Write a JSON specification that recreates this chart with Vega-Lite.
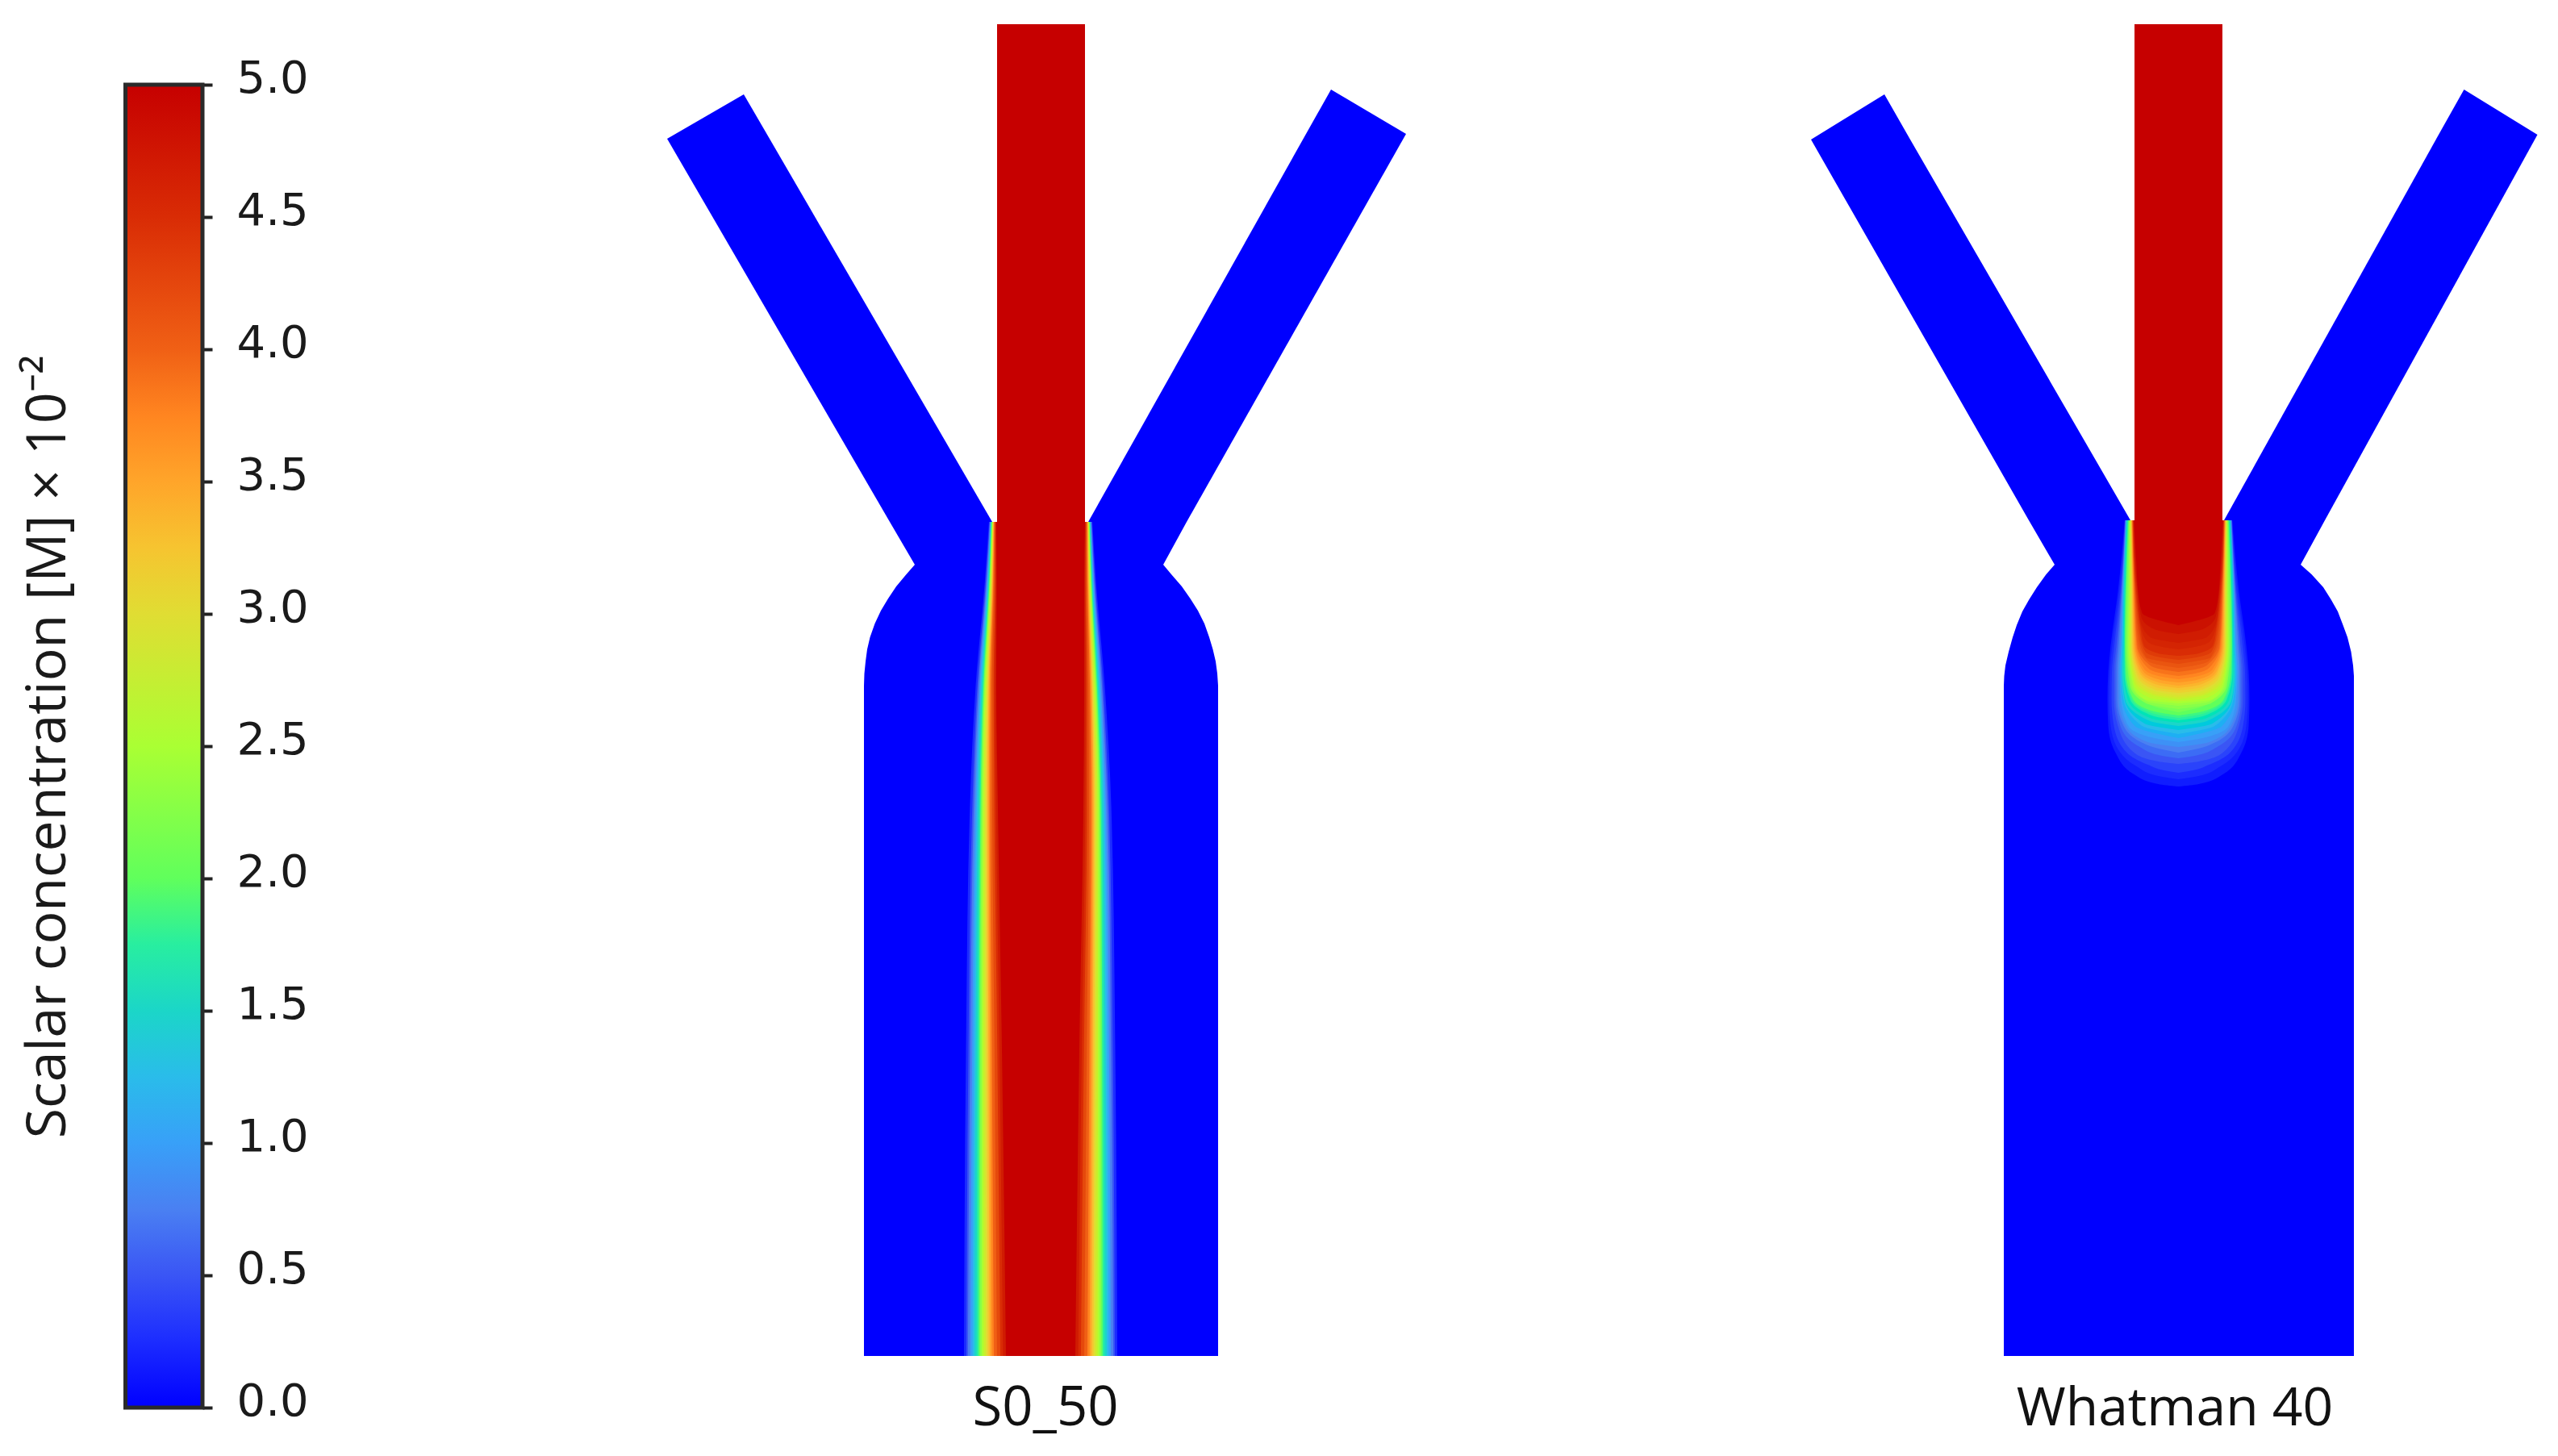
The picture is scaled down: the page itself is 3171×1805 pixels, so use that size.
{
"$schema":"https://vega.github.io/schema/vega-lite/v6.json",
"padding":0,"spacing":0,"bounds":"flush","background":"white",
"config":{"view":{"stroke":null},"concat":{"spacing":0}},
"datasets":{
"ss":[
{"k":"armL","L":0,"y":117,"l":-368.5,"r":-368.5},{"k":"armL","L":0,"y":172,"l":-463.5,"r":-336.5},{"k":"armL","L":0,"y":647,"l":-187.5,"r":-60.5},
{"k":"armR","L":0,"y":111,"l":359.5,"r":359.5},{"k":"armR","L":0,"y":166,"l":328.5,"r":452.5},{"k":"armR","L":0,"y":647,"l":58.5,"r":180.5},
{"k":"body","L":0,"y":647,"l":-187.5,"r":180.5},{"k":"body","L":0,"y":700,"l":-156.5,"r":151.5},{"k":"body","L":0,"y":712,"l":-167,"r":161.5},{"k":"body","L":0,"y":727,"l":-179.5,"r":174.5},{"k":"body","L":0,"y":742,"l":-189.5,"r":185},{"k":"body","L":0,"y":757,"l":-198.5,"r":194.5},{"k":"body","L":0,"y":773,"l":-206,"r":202.5},{"k":"body","L":0,"y":790,"l":-212,"r":208.5},{"k":"body","L":0,"y":805,"l":-215.5,"r":213},{"k":"body","L":0,"y":820,"l":-217.5,"r":216.5},{"k":"body","L":0,"y":835,"l":-219,"r":218.5},{"k":"body","L":0,"y":850,"l":-219.5,"r":219.5},{"k":"body","L":0,"y":1681,"l":-219.5,"r":219.5},
{"k":"chan","L":5,"y":30,"l":-54.5,"r":54.5},{"k":"chan","L":5,"y":647,"l":-54.5,"r":54.5}
],
"s":[
{"k":"a","L":0.25,"y":647,"l":-64.6,"r":63.6},{"k":"a","L":0.25,"y":720,"l":-69.6,"r":68.1},{"k":"a","L":0.25,"y":850,"l":-81,"r":79},{"k":"a","L":0.25,"y":1000,"l":-88.1,"r":87.1},{"k":"a","L":0.25,"y":1300,"l":-93,"r":92},{"k":"a","L":0.25,"y":1681,"l":-95.5,"r":94.5},
{"k":"b","L":0.5,"y":647,"l":-63.9,"r":62.9},{"k":"b","L":0.5,"y":720,"l":-68.4,"r":66.9},{"k":"b","L":0.5,"y":850,"l":-78.9,"r":76.9},{"k":"b","L":0.5,"y":1000,"l":-85.2,"r":84.2},{"k":"b","L":0.5,"y":1300,"l":-90,"r":89},{"k":"b","L":0.5,"y":1681,"l":-92.5,"r":91.5},
{"k":"c","L":0.75,"y":647,"l":-63.4,"r":62.4},{"k":"c","L":0.75,"y":720,"l":-67.6,"r":66.1},{"k":"c","L":0.75,"y":850,"l":-77.5,"r":75.5},{"k":"c","L":0.75,"y":1000,"l":-83.3,"r":82.3},{"k":"c","L":0.75,"y":1300,"l":-87.8,"r":86.8},{"k":"c","L":0.75,"y":1681,"l":-90.6,"r":89.6},
{"k":"d","L":1,"y":647,"l":-62.9,"r":61.9},{"k":"d","L":1,"y":720,"l":-66.8,"r":65.3},{"k":"d","L":1,"y":850,"l":-76.1,"r":74.1},{"k":"d","L":1,"y":1000,"l":-81.4,"r":80.4},{"k":"d","L":1,"y":1300,"l":-85.3,"r":84.3},{"k":"d","L":1,"y":1681,"l":-87.6,"r":86.6},
{"k":"e","L":1.25,"y":647,"l":-62.4,"r":61.4},{"k":"e","L":1.25,"y":720,"l":-66,"r":64.5},{"k":"e","L":1.25,"y":850,"l":-74.8,"r":72.8},{"k":"e","L":1.25,"y":1000,"l":-79.7,"r":78.7},{"k":"e","L":1.25,"y":1300,"l":-83,"r":82},{"k":"e","L":1.25,"y":1681,"l":-84.9,"r":83.9},
{"k":"f","L":1.5,"y":647,"l":-62,"r":61},{"k":"f","L":1.5,"y":720,"l":-65.4,"r":63.9},{"k":"f","L":1.5,"y":850,"l":-73.7,"r":71.7},{"k":"f","L":1.5,"y":1000,"l":-78.2,"r":77.2},{"k":"f","L":1.5,"y":1300,"l":-81,"r":80},{"k":"f","L":1.5,"y":1681,"l":-82.5,"r":81.5},
{"k":"g","L":1.75,"y":647,"l":-61.5,"r":60.5},{"k":"g","L":1.75,"y":720,"l":-64.7,"r":63.2},{"k":"g","L":1.75,"y":850,"l":-72.4,"r":70.4},{"k":"g","L":1.75,"y":1000,"l":-76.5,"r":75.5},{"k":"g","L":1.75,"y":1300,"l":-78.8,"r":77.8},{"k":"g","L":1.75,"y":1681,"l":-79.8,"r":78.8},
{"k":"h","L":2,"y":647,"l":-61.1,"r":60.1},{"k":"h","L":2,"y":720,"l":-64,"r":62.5},{"k":"h","L":2,"y":850,"l":-71.3,"r":69.3},{"k":"h","L":2,"y":1000,"l":-75,"r":74},{"k":"h","L":2,"y":1300,"l":-76.8,"r":75.8},{"k":"h","L":2,"y":1681,"l":-77.4,"r":76.4},
{"k":"i","L":2.25,"y":647,"l":-60.9,"r":59.9},{"k":"i","L":2.25,"y":720,"l":-63.6,"r":62.1},{"k":"i","L":2.25,"y":850,"l":-70.5,"r":68.5},{"k":"i","L":2.25,"y":1000,"l":-73.8,"r":72.8},{"k":"i","L":2.25,"y":1300,"l":-75.3,"r":74.3},{"k":"i","L":2.25,"y":1681,"l":-75.6,"r":74.6},
{"k":"j","L":2.5,"y":647,"l":-60.5,"r":59.5},{"k":"j","L":2.5,"y":720,"l":-63,"r":61.5},{"k":"j","L":2.5,"y":850,"l":-69.5,"r":67.5},{"k":"j","L":2.5,"y":1000,"l":-72.5,"r":71.5},{"k":"j","L":2.5,"y":1300,"l":-73.5,"r":72.5},{"k":"j","L":2.5,"y":1681,"l":-73.5,"r":72.5},
{"k":"m","L":2.75,"y":647,"l":-60.1,"r":59.1},{"k":"m","L":2.75,"y":720,"l":-62.4,"r":60.9},{"k":"m","L":2.75,"y":850,"l":-68.4,"r":66.4},{"k":"m","L":2.75,"y":1000,"l":-71,"r":70},{"k":"m","L":2.75,"y":1300,"l":-71.5,"r":70.5},{"k":"m","L":2.75,"y":1681,"l":-71.1,"r":70.1},
{"k":"n","L":3,"y":647,"l":-59.6,"r":58.6},{"k":"n","L":3,"y":720,"l":-61.6,"r":60.1},{"k":"n","L":3,"y":850,"l":-67.1,"r":65.1},{"k":"n","L":3,"y":1000,"l":-69.3,"r":68.3},{"k":"n","L":3,"y":1300,"l":-69.2,"r":68.2},{"k":"n","L":3,"y":1681,"l":-68.4,"r":67.4},
{"k":"o","L":3.25,"y":647,"l":-59.3,"r":58.3},{"k":"o","L":3.25,"y":720,"l":-61,"r":59.5},{"k":"o","L":3.25,"y":850,"l":-66,"r":64},{"k":"o","L":3.25,"y":1000,"l":-67.7,"r":66.7},{"k":"o","L":3.25,"y":1300,"l":-67.2,"r":66.2},{"k":"o","L":3.25,"y":1681,"l":-66,"r":65},
{"k":"p","L":3.5,"y":647,"l":-58.9,"r":57.9},{"k":"p","L":3.5,"y":720,"l":-60.4,"r":58.9},{"k":"p","L":3.5,"y":850,"l":-64.9,"r":62.9},{"k":"p","L":3.5,"y":1000,"l":-66.2,"r":65.2},{"k":"p","L":3.5,"y":1300,"l":-65.2,"r":64.2},{"k":"p","L":3.5,"y":1681,"l":-63.6,"r":62.6},
{"k":"q","L":3.75,"y":647,"l":-58.5,"r":57.5},{"k":"q","L":3.75,"y":720,"l":-59.7,"r":58.2},{"k":"q","L":3.75,"y":850,"l":-63.8,"r":61.8},{"k":"q","L":3.75,"y":1000,"l":-64.7,"r":63.7},{"k":"q","L":3.75,"y":1300,"l":-63.2,"r":62.2},{"k":"q","L":3.75,"y":1681,"l":-61.2,"r":60.2},
{"k":"t","L":4,"y":647,"l":-58,"r":57},{"k":"t","L":4,"y":720,"l":-59,"r":57.5},{"k":"t","L":4,"y":850,"l":-62.5,"r":60.5},{"k":"t","L":4,"y":1000,"l":-63,"r":62},{"k":"t","L":4,"y":1300,"l":-61,"r":60},{"k":"t","L":4,"y":1681,"l":-58.5,"r":57.5},
{"k":"u","L":4.25,"y":647,"l":-57.3,"r":56.3},{"k":"u","L":4.25,"y":720,"l":-58,"r":56.5},{"k":"u","L":4.25,"y":850,"l":-60.7,"r":58.7},{"k":"u","L":4.25,"y":1000,"l":-60.5,"r":59.5},{"k":"u","L":4.25,"y":1300,"l":-57.7,"r":56.7},{"k":"u","L":4.25,"y":1681,"l":-54.6,"r":53.6},
{"k":"v","L":4.5,"y":647,"l":-56.6,"r":55.6},{"k":"v","L":4.5,"y":720,"l":-56.8,"r":55.3},{"k":"v","L":4.5,"y":850,"l":-58.7,"r":56.7},{"k":"v","L":4.5,"y":1000,"l":-57.9,"r":56.9},{"k":"v","L":4.5,"y":1300,"l":-54.2,"r":53.2},{"k":"v","L":4.5,"y":1681,"l":-50.4,"r":49.4},
{"k":"x","L":4.75,"y":647,"l":-56.1,"r":55.1},{"k":"x","L":4.75,"y":720,"l":-56,"r":54.5},{"k":"x","L":4.75,"y":850,"l":-57.2,"r":55.2},{"k":"x","L":4.75,"y":1000,"l":-55.8,"r":54.8},{"k":"x","L":4.75,"y":1300,"l":-51.5,"r":50.5},{"k":"x","L":4.75,"y":1681,"l":-47.1,"r":46.1},
{"k":"z","L":5,"y":647,"l":-55.5,"r":54.5},{"k":"z","L":5,"y":720,"l":-55,"r":53.5},{"k":"z","L":5,"y":850,"l":-55.5,"r":53.5},{"k":"z","L":5,"y":1000,"l":-53.5,"r":52.5},{"k":"z","L":5,"y":1300,"l":-48.5,"r":47.5},{"k":"z","L":5,"y":1681,"l":-43.5,"r":42.5}
],
"ws":[
{"k":"armL","L":0,"y":117,"l":-364.5,"r":-364.5},{"k":"armL","L":0,"y":173,"l":-455.5,"r":-332.5},{"k":"armL","L":0,"y":645,"l":-185.5,"r":-59.5},
{"k":"armR","L":0,"y":111,"l":354,"r":354},{"k":"armR","L":0,"y":167,"l":322.5,"r":445},{"k":"armR","L":0,"y":645,"l":56.5,"r":181.5},
{"k":"body","L":0,"y":645,"l":-185.5,"r":181.5},{"k":"body","L":0,"y":700,"l":-153.5,"r":151.5},{"k":"body","L":0,"y":712,"l":-164,"r":165},{"k":"body","L":0,"y":728,"l":-175.5,"r":179.5},{"k":"body","L":0,"y":743,"l":-185,"r":189},{"k":"body","L":0,"y":758,"l":-193.5,"r":197.5},{"k":"body","L":0,"y":775,"l":-200.5,"r":204},{"k":"body","L":0,"y":790,"l":-205.5,"r":209.5},{"k":"body","L":0,"y":808,"l":-210.5,"r":214},{"k":"body","L":0,"y":825,"l":-214.5,"r":216.5},{"k":"body","L":0,"y":838,"l":-216,"r":217.5},{"k":"body","L":0,"y":850,"l":-216.5,"r":217.5},{"k":"body","L":0,"y":1681,"l":-216.5,"r":217.5},
{"k":"chan","L":5,"y":30,"l":-54.5,"r":54.5},{"k":"chan","L":5,"y":645,"l":-54.5,"r":54.5}
],
"w":[
{"k":"a0","L":0.125,"y":645,"l":-66.7,"r":66.7},{"k":"a0","L":0.125,"y":733,"l":-75,"r":75},{"k":"a0","L":0.125,"y":800,"l":-84,"r":84},{"k":"a0","L":0.125,"y":833,"l":-87,"r":87},{"k":"a0","L":0.125,"y":867,"l":-88,"r":88},{"k":"a0","L":0.125,"y":900,"l":-87,"r":87},{"k":"a0","L":0.125,"y":933,"l":-78,"r":78},{"k":"a0","L":0.125,"y":960,"l":-55,"r":55},{"k":"a0","L":0.125,"y":972,"l":-25,"r":25},{"k":"a0","L":0.125,"y":975,"l":0,"r":0},
{"k":"a","L":0.25,"y":645,"l":-66.5,"r":66.5},{"k":"a","L":0.25,"y":733,"l":-73.5,"r":73.5},{"k":"a","L":0.25,"y":800,"l":-82,"r":82},{"k":"a","L":0.25,"y":833,"l":-85,"r":85},{"k":"a","L":0.25,"y":867,"l":-86,"r":86},{"k":"a","L":0.25,"y":900,"l":-84,"r":84},{"k":"a","L":0.25,"y":933,"l":-72,"r":72},{"k":"a","L":0.25,"y":950,"l":-52,"r":52},{"k":"a","L":0.25,"y":962,"l":-25,"r":25},{"k":"a","L":0.25,"y":966,"l":0,"r":0},
{"k":"a5","L":0.375,"y":645,"l":-66.2,"r":66.2},{"k":"a5","L":0.375,"y":733,"l":-72,"r":72},{"k":"a5","L":0.375,"y":800,"l":-79.5,"r":79.5},{"k":"a5","L":0.375,"y":833,"l":-82.5,"r":82.5},{"k":"a5","L":0.375,"y":867,"l":-83,"r":83},{"k":"a5","L":0.375,"y":900,"l":-80,"r":80},{"k":"a5","L":0.375,"y":933,"l":-64,"r":64},{"k":"a5","L":0.375,"y":948,"l":-38,"r":38},{"k":"a5","L":0.375,"y":955,"l":-18,"r":18},{"k":"a5","L":0.375,"y":958,"l":0,"r":0},
{"k":"b","L":0.5,"y":645,"l":-66,"r":66},{"k":"b","L":0.5,"y":733,"l":-71,"r":71},{"k":"b","L":0.5,"y":800,"l":-77,"r":77},{"k":"b","L":0.5,"y":833,"l":-80,"r":80},{"k":"b","L":0.5,"y":867,"l":-80,"r":80},{"k":"b","L":0.5,"y":900,"l":-75,"r":75},{"k":"b","L":0.5,"y":933,"l":-55,"r":55},{"k":"b","L":0.5,"y":944,"l":-25,"r":25},{"k":"b","L":0.5,"y":947,"l":0,"r":0},
{"k":"b5","L":0.625,"y":645,"l":-65.8,"r":65.8},{"k":"b5","L":0.625,"y":733,"l":-70.5,"r":70.5},{"k":"b5","L":0.625,"y":800,"l":-75.5,"r":75.5},{"k":"b5","L":0.625,"y":833,"l":-78,"r":78},{"k":"b5","L":0.625,"y":867,"l":-78,"r":78},{"k":"b5","L":0.625,"y":900,"l":-72,"r":72},{"k":"b5","L":0.625,"y":926,"l":-48,"r":48},{"k":"b5","L":0.625,"y":937,"l":-20,"r":20},{"k":"b5","L":0.625,"y":940,"l":0,"r":0},
{"k":"c","L":0.75,"y":645,"l":-65.5,"r":65.5},{"k":"c","L":0.75,"y":733,"l":-70,"r":70},{"k":"c","L":0.75,"y":800,"l":-74,"r":74},{"k":"c","L":0.75,"y":833,"l":-76,"r":76},{"k":"c","L":0.75,"y":867,"l":-76,"r":76},{"k":"c","L":0.75,"y":900,"l":-68,"r":68},{"k":"c","L":0.75,"y":925,"l":-35,"r":35},{"k":"c","L":0.75,"y":933,"l":0,"r":0},
{"k":"c5","L":0.875,"y":645,"l":-65.2,"r":65.2},{"k":"c5","L":0.875,"y":733,"l":-69.5,"r":69.5},{"k":"c5","L":0.875,"y":800,"l":-72.5,"r":72.5},{"k":"c5","L":0.875,"y":833,"l":-74.5,"r":74.5},{"k":"c5","L":0.875,"y":867,"l":-74,"r":74},{"k":"c5","L":0.875,"y":900,"l":-65,"r":65},{"k":"c5","L":0.875,"y":920,"l":-38,"r":38},{"k":"c5","L":0.875,"y":926,"l":0,"r":0},
{"k":"d","L":1,"y":645,"l":-65,"r":65},{"k":"d","L":1,"y":733,"l":-69,"r":69},{"k":"d","L":1,"y":800,"l":-71,"r":71},{"k":"d","L":1,"y":833,"l":-73,"r":73},{"k":"d","L":1,"y":867,"l":-71.5,"r":71.5},{"k":"d","L":1,"y":900,"l":-62,"r":62},{"k":"d","L":1,"y":915,"l":-30,"r":30},{"k":"d","L":1,"y":920,"l":0,"r":0},
{"k":"d5","L":1.125,"y":645,"l":-64.8,"r":64.8},{"k":"d5","L":1.125,"y":733,"l":-68.5,"r":68.5},{"k":"d5","L":1.125,"y":800,"l":-70.5,"r":70.5},{"k":"d5","L":1.125,"y":833,"l":-72,"r":72},{"k":"d5","L":1.125,"y":867,"l":-70,"r":70},{"k":"d5","L":1.125,"y":900,"l":-54,"r":54},{"k":"d5","L":1.125,"y":915,"l":0,"r":0},
{"k":"e","L":1.25,"y":645,"l":-64.5,"r":64.5},{"k":"e","L":1.25,"y":733,"l":-68,"r":68},{"k":"e","L":1.25,"y":800,"l":-70,"r":70},{"k":"e","L":1.25,"y":833,"l":-71,"r":71},{"k":"e","L":1.25,"y":867,"l":-68,"r":68},{"k":"e","L":1.25,"y":900,"l":-45,"r":45},{"k":"e","L":1.25,"y":910,"l":0,"r":0},
{"k":"e5","L":1.375,"y":645,"l":-64.2,"r":64.2},{"k":"e5","L":1.375,"y":733,"l":-67.8,"r":67.8},{"k":"e5","L":1.375,"y":800,"l":-69,"r":69},{"k":"e5","L":1.375,"y":833,"l":-70,"r":70},{"k":"e5","L":1.375,"y":867,"l":-67,"r":67},{"k":"e5","L":1.375,"y":897,"l":-42,"r":42},{"k":"e5","L":1.375,"y":905,"l":0,"r":0},
{"k":"f","L":1.5,"y":645,"l":-64,"r":64},{"k":"f","L":1.5,"y":733,"l":-67.5,"r":67.5},{"k":"f","L":1.5,"y":800,"l":-68,"r":68},{"k":"f","L":1.5,"y":833,"l":-69.5,"r":69.5},{"k":"f","L":1.5,"y":867,"l":-66,"r":66},{"k":"f","L":1.5,"y":894,"l":-35,"r":35},{"k":"f","L":1.5,"y":900,"l":0,"r":0},
{"k":"f5","L":1.625,"y":645,"l":-63.5,"r":63.5},{"k":"f5","L":1.625,"y":733,"l":-66.8,"r":66.8},{"k":"f5","L":1.625,"y":800,"l":-67.5,"r":67.5},{"k":"f5","L":1.625,"y":833,"l":-68,"r":68},{"k":"f5","L":1.625,"y":867,"l":-63,"r":63},{"k":"f5","L":1.625,"y":891,"l":-33,"r":33},{"k":"f5","L":1.625,"y":896,"l":0,"r":0},
{"k":"g","L":1.75,"y":645,"l":-63,"r":63},{"k":"g","L":1.75,"y":733,"l":-66,"r":66},{"k":"g","L":1.75,"y":800,"l":-67,"r":67},{"k":"g","L":1.75,"y":833,"l":-67,"r":67},{"k":"g","L":1.75,"y":867,"l":-60,"r":60},{"k":"g","L":1.75,"y":888,"l":-30,"r":30},{"k":"g","L":1.75,"y":893,"l":0,"r":0},
{"k":"g5","L":1.875,"y":645,"l":-62.5,"r":62.5},{"k":"g5","L":1.875,"y":733,"l":-65.5,"r":65.5},{"k":"g5","L":1.875,"y":800,"l":-66.5,"r":66.5},{"k":"g5","L":1.875,"y":833,"l":-66,"r":66},{"k":"g5","L":1.875,"y":867,"l":-58,"r":58},{"k":"g5","L":1.875,"y":885,"l":-30,"r":30},{"k":"g5","L":1.875,"y":890,"l":0,"r":0},
{"k":"h","L":2,"y":645,"l":-62,"r":62},{"k":"h","L":2,"y":733,"l":-65,"r":65},{"k":"h","L":2,"y":800,"l":-66,"r":66},{"k":"h","L":2,"y":833,"l":-65,"r":65},{"k":"h","L":2,"y":867,"l":-56,"r":56},{"k":"h","L":2,"y":882,"l":-30,"r":30},{"k":"h","L":2,"y":887,"l":0,"r":0},
{"k":"h5","L":2.125,"y":645,"l":-61.5,"r":61.5},{"k":"h5","L":2.125,"y":733,"l":-64,"r":64},{"k":"h5","L":2.125,"y":800,"l":-65,"r":65},{"k":"h5","L":2.125,"y":850,"l":-60,"r":60},{"k":"h5","L":2.125,"y":875,"l":-32,"r":32},{"k":"h5","L":2.125,"y":883,"l":0,"r":0},
{"k":"i","L":2.25,"y":645,"l":-61,"r":61},{"k":"i","L":2.25,"y":733,"l":-63,"r":63},{"k":"i","L":2.25,"y":800,"l":-64,"r":64},{"k":"i","L":2.25,"y":850,"l":-60,"r":60},{"k":"i","L":2.25,"y":872,"l":-40,"r":40},{"k":"i","L":2.25,"y":879,"l":0,"r":0},
{"k":"i5","L":2.375,"y":645,"l":-60.8,"r":60.8},{"k":"i5","L":2.375,"y":733,"l":-62,"r":62},{"k":"i5","L":2.375,"y":800,"l":-63,"r":63},{"k":"i5","L":2.375,"y":850,"l":-58,"r":58},{"k":"i5","L":2.375,"y":870,"l":-38,"r":38},{"k":"i5","L":2.375,"y":875,"l":0,"r":0},
{"k":"j","L":2.5,"y":645,"l":-60.5,"r":60.5},{"k":"j","L":2.5,"y":733,"l":-61,"r":61},{"k":"j","L":2.5,"y":800,"l":-62,"r":62},{"k":"j","L":2.5,"y":850,"l":-56,"r":56},{"k":"j","L":2.5,"y":867,"l":-42,"r":42},{"k":"j","L":2.5,"y":872,"l":0,"r":0},
{"k":"j5","L":2.625,"y":645,"l":-60.2,"r":60.2},{"k":"j5","L":2.625,"y":733,"l":-60.5,"r":60.5},{"k":"j5","L":2.625,"y":800,"l":-61,"r":61},{"k":"j5","L":2.625,"y":848,"l":-55,"r":55},{"k":"j5","L":2.625,"y":865,"l":-36,"r":36},{"k":"j5","L":2.625,"y":869.5,"l":0,"r":0},
{"k":"m","L":2.75,"y":645,"l":-60,"r":60},{"k":"m","L":2.75,"y":733,"l":-60,"r":60},{"k":"m","L":2.75,"y":800,"l":-60,"r":60},{"k":"m","L":2.75,"y":845,"l":-54,"r":54},{"k":"m","L":2.75,"y":862,"l":-32,"r":32},{"k":"m","L":2.75,"y":867,"l":0,"r":0},
{"k":"m5","L":2.875,"y":645,"l":-59.5,"r":59.5},{"k":"m5","L":2.875,"y":733,"l":-59,"r":59},{"k":"m5","L":2.875,"y":800,"l":-59,"r":59},{"k":"m5","L":2.875,"y":842,"l":-53,"r":53},{"k":"m5","L":2.875,"y":860,"l":-31,"r":31},{"k":"m5","L":2.875,"y":864.5,"l":0,"r":0},
{"k":"n","L":3,"y":645,"l":-59,"r":59},{"k":"n","L":3,"y":733,"l":-58.5,"r":58.5},{"k":"n","L":3,"y":800,"l":-58.5,"r":58.5},{"k":"n","L":3,"y":840,"l":-52,"r":52},{"k":"n","L":3,"y":857,"l":-30,"r":30},{"k":"n","L":3,"y":862,"l":0,"r":0},
{"k":"n5","L":3.125,"y":645,"l":-58.8,"r":58.8},{"k":"n5","L":3.125,"y":733,"l":-58,"r":58},{"k":"n5","L":3.125,"y":800,"l":-57.8,"r":57.8},{"k":"n5","L":3.125,"y":838,"l":-51,"r":51},{"k":"n5","L":3.125,"y":855,"l":-29,"r":29},{"k":"n5","L":3.125,"y":859,"l":0,"r":0},
{"k":"o","L":3.25,"y":645,"l":-58.5,"r":58.5},{"k":"o","L":3.25,"y":733,"l":-57.5,"r":57.5},{"k":"o","L":3.25,"y":800,"l":-57,"r":57},{"k":"o","L":3.25,"y":835,"l":-50,"r":50},{"k":"o","L":3.25,"y":852,"l":-28,"r":28},{"k":"o","L":3.25,"y":856,"l":0,"r":0},
{"k":"o5","L":3.375,"y":645,"l":-58.2,"r":58.2},{"k":"o5","L":3.375,"y":733,"l":-57,"r":57},{"k":"o5","L":3.375,"y":800,"l":-56,"r":56},{"k":"o5","L":3.375,"y":834,"l":-48,"r":48},{"k":"o5","L":3.375,"y":849,"l":-26,"r":26},{"k":"o5","L":3.375,"y":853,"l":0,"r":0},
{"k":"p","L":3.5,"y":645,"l":-58,"r":58},{"k":"p","L":3.5,"y":733,"l":-56.5,"r":56.5},{"k":"p","L":3.5,"y":800,"l":-55,"r":55},{"k":"p","L":3.5,"y":833,"l":-46.5,"r":46.5},{"k":"p","L":3.5,"y":846,"l":-25,"r":25},{"k":"p","L":3.5,"y":850,"l":0,"r":0},
{"k":"p5","L":3.625,"y":645,"l":-57.8,"r":57.8},{"k":"p5","L":3.625,"y":733,"l":-56,"r":56},{"k":"p5","L":3.625,"y":800,"l":-54,"r":54},{"k":"p5","L":3.625,"y":832,"l":-44,"r":44},{"k":"p5","L":3.625,"y":843,"l":-22,"r":22},{"k":"p5","L":3.625,"y":846,"l":0,"r":0},
{"k":"q","L":3.75,"y":645,"l":-57.5,"r":57.5},{"k":"q","L":3.75,"y":733,"l":-55.5,"r":55.5},{"k":"q","L":3.75,"y":800,"l":-53,"r":53},{"k":"q","L":3.75,"y":830,"l":-42,"r":42},{"k":"q","L":3.75,"y":839,"l":-20,"r":20},{"k":"q","L":3.75,"y":842,"l":0,"r":0},
{"k":"q5","L":3.875,"y":645,"l":-57.2,"r":57.2},{"k":"q5","L":3.875,"y":733,"l":-55,"r":55},{"k":"q5","L":3.875,"y":800,"l":-52,"r":52},{"k":"q5","L":3.875,"y":828,"l":-38,"r":38},{"k":"q5","L":3.875,"y":835,"l":-20,"r":20},{"k":"q5","L":3.875,"y":838,"l":0,"r":0},
{"k":"t","L":4,"y":645,"l":-57,"r":57},{"k":"t","L":4,"y":733,"l":-54.5,"r":54.5},{"k":"t","L":4,"y":800,"l":-51,"r":51},{"k":"t","L":4,"y":825,"l":-35,"r":35},{"k":"t","L":4,"y":830,"l":-20,"r":20},{"k":"t","L":4,"y":833,"l":0,"r":0},
{"k":"t5","L":4.125,"y":645,"l":-56.8,"r":56.8},{"k":"t5","L":4.125,"y":733,"l":-54,"r":54},{"k":"t5","L":4.125,"y":795,"l":-50,"r":50},{"k":"t5","L":4.125,"y":820,"l":-37,"r":37},{"k":"t5","L":4.125,"y":825,"l":-20,"r":20},{"k":"t5","L":4.125,"y":828,"l":0,"r":0},
{"k":"u","L":4.25,"y":645,"l":-56.5,"r":56.5},{"k":"u","L":4.25,"y":733,"l":-53.5,"r":53.5},{"k":"u","L":4.25,"y":790,"l":-49,"r":49},{"k":"u","L":4.25,"y":815,"l":-40,"r":40},{"k":"u","L":4.25,"y":820,"l":-20,"r":20},{"k":"u","L":4.25,"y":823,"l":0,"r":0},
{"k":"u5","L":4.375,"y":645,"l":-56.2,"r":56.2},{"k":"u5","L":4.375,"y":733,"l":-53,"r":53},{"k":"u5","L":4.375,"y":785,"l":-48,"r":48},{"k":"u5","L":4.375,"y":808,"l":-41,"r":41},{"k":"u5","L":4.375,"y":815,"l":-22,"r":22},{"k":"u5","L":4.375,"y":818,"l":0,"r":0},
{"k":"v","L":4.5,"y":645,"l":-56,"r":56},{"k":"v","L":4.5,"y":733,"l":-52.5,"r":52.5},{"k":"v","L":4.5,"y":780,"l":-47,"r":47},{"k":"v","L":4.5,"y":800,"l":-43,"r":43},{"k":"v","L":4.5,"y":810,"l":-25,"r":25},{"k":"v","L":4.5,"y":813,"l":0,"r":0},
{"k":"v5","L":4.625,"y":645,"l":-55.8,"r":55.8},{"k":"v5","L":4.625,"y":733,"l":-51.7,"r":51.7},{"k":"v5","L":4.625,"y":775,"l":-47,"r":47},{"k":"v5","L":4.625,"y":795,"l":-39,"r":39},{"k":"v5","L":4.625,"y":802,"l":-20,"r":20},{"k":"v5","L":4.625,"y":805,"l":0,"r":0},
{"k":"x","L":4.75,"y":645,"l":-55.5,"r":55.5},{"k":"x","L":4.75,"y":733,"l":-51,"r":51},{"k":"x","L":4.75,"y":770,"l":-47,"r":47},{"k":"x","L":4.75,"y":790,"l":-35,"r":35},{"k":"x","L":4.75,"y":797,"l":0,"r":0},
{"k":"x5","L":4.875,"y":645,"l":-55.2,"r":55.2},{"k":"x5","L":4.875,"y":733,"l":-50.5,"r":50.5},{"k":"x5","L":4.875,"y":765,"l":-46,"r":46},{"k":"x5","L":4.875,"y":780,"l":-30,"r":30},{"k":"x5","L":4.875,"y":786,"l":0,"r":0},
{"k":"z","L":5,"y":645,"l":-55,"r":55},{"k":"z","L":5,"y":700,"l":-52,"r":52},{"k":"z","L":5,"y":733,"l":-50,"r":50},{"k":"z","L":5,"y":760,"l":-45,"r":45},{"k":"z","L":5,"y":775,"l":0,"r":0}
]},
"hconcat":[
{"width":251,"height":1805,"data":{"values":[{"lo":0,"hi":5}]},
"mark":{"type":"rect","stroke":"#2a2a2a","strokeWidth":5,
"fill":{"gradient":"linear","x1":0,"y1":1,"x2":0,"y2":0,"stops":[{"offset":0,"color":"#0000ff"},{"offset":0.05,"color":"#1c2cff"},{"offset":0.1,"color":"#3a55f5"},{"offset":0.15,"color":"#4a80f2"},{"offset":0.2,"color":"#38a0f8"},{"offset":0.25,"color":"#2abcea"},{"offset":0.3,"color":"#1bd6c8"},{"offset":0.35,"color":"#28eea0"},{"offset":0.4,"color":"#60ff5c"},{"offset":0.5,"color":"#aaff33"},{"offset":0.6,"color":"#e0dd33"},{"offset":0.65,"color":"#f6c430"},{"offset":0.7,"color":"#ffa52a"},{"offset":0.75,"color":"#ff8520"},{"offset":0.8,"color":"#f06015"},{"offset":0.9,"color":"#d92c05"},{"offset":1,"color":"#c60000"}]}},
"encoding":{
"x":{"datum":0,"type":"quantitative","scale":{"domain":[-1.628,1],"nice":false,"zero":false},"axis":null},
"x2":{"datum":1},
"y":{"field":"lo","type":"quantitative","scale":{"domain":[-0.183,5.32],"nice":false,"zero":false},
"axis":{"orient":"right","values":[0,0.5,1,1.5,2,2.5,3,3.5,4,4.5,5],"format":".1f","grid":false,"domain":false,"tickColor":"#222222","tickSize":12,"tickWidth":4,"labelFont":"DejaVu Sans","labelFontSize":56,"labelColor":"#1a1a1a","labelPadding":30,"labelOffset":-7,"title":"Scalar concentration [M] × 10⁻²","titleFont":"Open Sans","titleFontSize":68,"titleFontWeight":"normal","titleColor":"#1a1a1a","titleAngle":270,"titleAlign":"center","titleBaseline":"middle","titleX":-191,"titleY":925}},
"y2":{"field":"hi"}
}},
{"width":1699,"height":1805,
"layer":[
{"data":{"name":"ss"},"mark":{"type":"area","orient":"horizontal"},
"encoding":{
"x":{"field":"l","type":"quantitative","scale":{"domain":[-1039.5,659.5],"nice":false,"zero":false},"axis":null},
"x2":{"field":"r"},
"y":{"field":"y","type":"quantitative","scale":{"domain":[1805,0],"nice":false,"zero":false},"axis":null},
"detail":{"field":"k"},
"color":{"field":"L","type":"quantitative","scale":{"domain":[0,0.25,0.5,0.75,1,1.25,1.5,1.75,2,2.5,3,3.25,3.5,3.75,4,4.5,5],"range":["#0000ff","#1c2cff","#3a55f5","#4a80f2","#38a0f8","#2abcea","#1bd6c8","#28eea0","#60ff5c","#aaff33","#e0dd33","#f6c430","#ffa52a","#ff8520","#f06015","#d92c05","#c60000"]},"legend":null}
}},
{"data":{"name":"s"},"mark":{"type":"area","orient":"horizontal","interpolate":"monotone"},
"encoding":{
"x":{"field":"l","type":"quantitative"},"x2":{"field":"r"},
"y":{"field":"y","type":"quantitative"},
"detail":{"field":"k"},
"color":{"field":"L","type":"quantitative"}
}},
{"data":{"values":[{"label":"S0_50","px":5.5,"py":1767}]},
"mark":{"type":"text","font":"Open Sans","fontSize":67,"color":"#111111","align":"center","baseline":"alphabetic"},
"encoding":{"x":{"field":"px","type":"quantitative"},"y":{"field":"py","type":"quantitative"},"text":{"field":"label"}}}
]},
{"width":1221,"height":1805,
"layer":[
{"data":{"name":"ws"},"mark":{"type":"area","orient":"horizontal"},
"encoding":{
"x":{"field":"l","type":"quantitative","scale":{"domain":[-750.5,470.5],"nice":false,"zero":false},"axis":null},
"x2":{"field":"r"},
"y":{"field":"y","type":"quantitative","scale":{"domain":[1805,0],"nice":false,"zero":false},"axis":null},
"detail":{"field":"k"},
"color":{"field":"L","type":"quantitative","scale":{"domain":[0,0.25,0.5,0.75,1,1.25,1.5,1.75,2,2.5,3,3.25,3.5,3.75,4,4.5,5],"range":["#0000ff","#1c2cff","#3a55f5","#4a80f2","#38a0f8","#2abcea","#1bd6c8","#28eea0","#60ff5c","#aaff33","#e0dd33","#f6c430","#ffa52a","#ff8520","#f06015","#d92c05","#c60000"]},"legend":null}
}},
{"data":{"name":"w"},"mark":{"type":"area","orient":"horizontal","interpolate":"monotone"},
"encoding":{
"x":{"field":"l","type":"quantitative"},"x2":{"field":"r"},
"y":{"field":"y","type":"quantitative"},
"detail":{"field":"k"},
"color":{"field":"L","type":"quantitative"}
}},
{"data":{"values":[{"label":"Whatman 40","px":-4.5,"py":1767}]},
"mark":{"type":"text","font":"Open Sans","fontSize":66,"color":"#111111","align":"center","baseline":"alphabetic"},
"encoding":{"x":{"field":"px","type":"quantitative"},"y":{"field":"py","type":"quantitative"},"text":{"field":"label"}}}
]}
],
"resolve":{"scale":{"color":"independent"}}
}
